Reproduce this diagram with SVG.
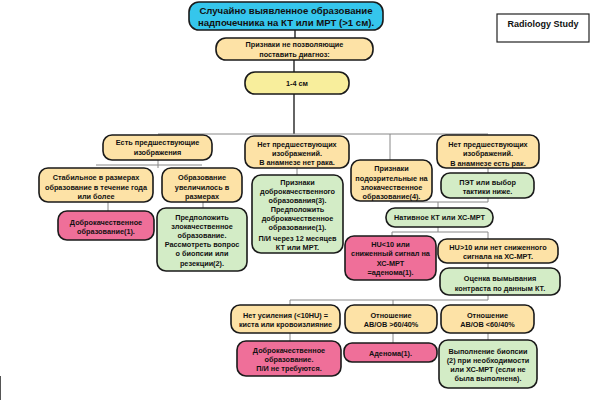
<svg xmlns="http://www.w3.org/2000/svg" width="591" height="400" viewBox="0 0 591 400">
<style>
.b{stroke:#1a1a1a;stroke-width:1.6}
.cy{fill:#35c6ec}.pe{fill:#fde2a6}.ye{fill:#f8ee9c}.gr{fill:#d3ecc6}.pk{fill:#ef6f99}
text{font-family:"Liberation Sans",Arial,sans-serif;font-weight:bold;font-size:7.3px;fill:#111;text-anchor:middle}
.t{font-size:9.6px}
.c line{stroke:#888;stroke-width:1}
.c .k{stroke:#111;stroke-width:1.3}
</style>
<rect x="0" y="0" width="591" height="400" fill="#fff"/>
<g class="c" id="connectors">
<line class="k" x1="295" y1="30" x2="295" y2="38"/>
<line class="k" x1="294" y1="60" x2="294" y2="72"/>
<line class="k" x1="294" y1="94" x2="294" y2="134"/>
<line x1="158" y1="134" x2="488" y2="134"/>
<line x1="158" y1="160" x2="158" y2="168"/>
<line x1="96" y1="165" x2="202" y2="165"/>
<line x1="108" y1="202" x2="108" y2="211"/>
<line x1="203" y1="202" x2="203" y2="208"/>
<line x1="297" y1="168" x2="297" y2="175"/>
<line x1="390" y1="134" x2="390" y2="160"/>
<line x1="488" y1="168" x2="488" y2="173"/>
<line x1="390" y1="202" x2="488" y2="202"/>
<line x1="488" y1="198" x2="488" y2="202"/>
<line x1="438" y1="202" x2="438" y2="208"/>
<line x1="438" y1="227" x2="438" y2="232"/>
<line x1="392" y1="232" x2="488" y2="232"/>
<line x1="392" y1="232" x2="392" y2="236"/>
<line x1="488" y1="232" x2="488" y2="239"/>
<line x1="488" y1="263" x2="488" y2="268"/>
<line x1="488" y1="295" x2="488" y2="300"/>
<line x1="290" y1="300" x2="488" y2="300"/>
<line x1="290" y1="300" x2="290" y2="305"/>
<line x1="393" y1="300" x2="393" y2="305"/>
<line x1="290" y1="333" x2="290" y2="341"/>
<line x1="393" y1="333" x2="393" y2="343"/>
<line x1="488" y1="333" x2="488" y2="340"/>
<line x1="0.5" y1="376" x2="0.5" y2="400" style="stroke:#555;stroke-width:1"/>
</g>
<g id="title"><rect class="b cy" x="189" y="2" width="194" height="28" rx="10"/>
<text class="t" x="286" y="14">Случайно выявленное образование</text>
<text class="t" x="286" y="26.3">надпочечника на КТ или МРТ (&gt;1 см).</text></g>
<g id="radiology"><rect x="497" y="14" width="92" height="28" fill="#fff" stroke="#222" stroke-width="1.2"/>
<text x="543" y="26.8" style="font-size:9px">Radiology Study</text></g>
<g id="no-diag"><rect class="b pe" x="216" y="38" width="157" height="22" rx="10"/>
<text x="294.5" y="47">Признаки не позволяющие</text>
<text x="294.5" y="57">поставить диагноз:</text></g>
<g id="size"><rect class="b ye" x="245" y="72" width="104" height="22" rx="10"/>
<text x="297" y="86">1-4 см</text></g>
<g id="prior"><rect class="b pe" x="103" y="135" width="109" height="25" rx="9"/>
<text x="157.5" y="145">Есть предшествующие</text>
<text x="157.5" y="155">изображения</text></g>
<g id="stable"><rect class="b pe" x="39" y="168" width="114" height="34" rx="9"/>
<text x="96" y="180">Стабильное в размерах</text>
<text x="96" y="190">образование в течение года</text>
<text x="96" y="199">или более</text></g>
<g id="grew"><rect class="b pe" x="162" y="168" width="80" height="34" rx="9"/>
<text x="202" y="180">Образование</text>
<text x="202" y="190">увеличилось в</text>
<text x="202" y="199">размерах</text></g>
<g id="benign1"><rect class="b pk" x="58" y="211" width="96" height="29" rx="9"/>
<text x="106" y="224.7">Доброкачественное</text>
<text x="106" y="234">образование(1).</text></g>
<g id="malig"><rect class="b gr" x="157" y="208" width="90" height="63" rx="9"/>
<text x="202" y="219.7">Предположить</text>
<text x="202" y="228.7">злокачественное</text>
<text x="202" y="238">образование.</text>
<text x="202" y="247">Рассмотреть вопрос</text>
<text x="202" y="256.3">о биопсии или</text>
<text x="202" y="265.7">резекции(2).</text></g>
<g id="noprior-nocancer"><rect class="b pe" x="245" y="136" width="104" height="32" rx="9"/>
<text x="297" y="147">Нет предшествующих</text>
<text x="297" y="156">изображений.</text>
<text x="297" y="165">В анамнезе нет рака.</text></g>
<g id="benign-signs"><rect class="b gr" x="252" y="175" width="91" height="78" rx="9"/>
<text x="297.5" y="185">Признаки</text>
<text x="297.5" y="194">доброкачественного</text>
<text x="297.5" y="202.5">образования(3).</text>
<text x="297.5" y="211.5">Предположить</text>
<text x="297.5" y="220.5">доброкачественное</text>
<text x="297.5" y="230">образование(1).</text>
<text x="297.5" y="240.5">П/И через 12 месяцев</text>
<text x="297.5" y="249.5">КТ или МРТ.</text></g>
<g id="suspicious"><rect class="b pe" x="351" y="160" width="81" height="41" rx="9"/>
<text x="391.5" y="171.3">Признаки</text>
<text x="391.5" y="180.7">подозрительные на</text>
<text x="391.5" y="189.7">злокачественное</text>
<text x="391.5" y="199">образование(4).</text></g>
<g id="noprior-cancer"><rect class="b pe" x="437" y="135" width="102" height="33" rx="9"/>
<text x="488" y="147">Нет предшествующих</text>
<text x="488" y="156.3">изображений.</text>
<text x="488" y="165.7">В анамнезе есть рак.</text></g>
<g id="pet"><rect class="b gr" x="441" y="173" width="93" height="25" rx="9"/>
<text x="487.5" y="184.7">ПЭТ или выбор</text>
<text x="487.5" y="194">тактики ниже.</text></g>
<g id="native"><rect class="b gr" x="386" y="208" width="107" height="19" rx="9"/>
<text x="439.5" y="220.3">Нативное КТ или ХС-МРТ</text></g>
<g id="hu-low"><rect class="b pk" x="345" y="236" width="91" height="44" rx="9"/>
<text x="390.5" y="247.3">HU&lt;10 или</text>
<text x="390.5" y="256.3">сниженный сигнал на</text>
<text x="390.5" y="265.7">ХС-МРТ</text>
<text x="390.5" y="274.7">=аденома(1).</text></g>
<g id="hu-high"><rect class="b pe" x="438" y="239" width="120" height="24" rx="9"/>
<text x="498" y="249.7">HU&gt;10 или нет сниженного</text>
<text x="498" y="259">сигнала на ХС-МРТ.</text></g>
<g id="washout"><rect class="b gr" x="440" y="268" width="120" height="27" rx="9"/>
<text x="500" y="281.3">Оценка вымывания</text>
<text x="500" y="290.7">контраста по данным КТ.</text></g>
<g id="no-enh"><rect class="b pe" x="231" y="305" width="109" height="28" rx="9"/>
<text x="285.5" y="318">Нет усиления (&lt;10HU) =</text>
<text x="285.5" y="327.3">киста или кровоизлияние</text></g>
<g id="ratio-gt"><rect class="b pe" x="345" y="305" width="92" height="28" rx="9"/>
<text x="391" y="318">Отношение</text>
<text x="391" y="327.3">АВ/ОВ &gt;60/40%</text></g>
<g id="ratio-lt"><rect class="b pe" x="441" y="305" width="93" height="28" rx="9"/>
<text x="487.5" y="318">Отношение</text>
<text x="487.5" y="327.3">АВ/ОВ &lt;60/40%</text></g>
<g id="benign2"><rect class="b pk" x="237" y="341" width="104" height="35" rx="9"/>
<text x="289" y="353">Доброкачественное</text>
<text x="289" y="362.3">образование.</text>
<text x="289" y="371.3">П/И не требуются.</text></g>
<g id="adenoma"><rect class="b pk" x="344" y="343" width="93" height="19" rx="8"/>
<text x="390.5" y="355.7">Аденома(1).</text></g>
<g id="biopsy"><rect class="b gr" x="439" y="340" width="98" height="48" rx="9"/>
<text x="488" y="353.7">Выполнение биопсии</text>
<text x="488" y="363">(2) при необходимости</text>
<text x="488" y="372">или ХС-МРТ (если не</text>
<text x="488" y="381.3">была выполнена).</text></g>
</svg>
